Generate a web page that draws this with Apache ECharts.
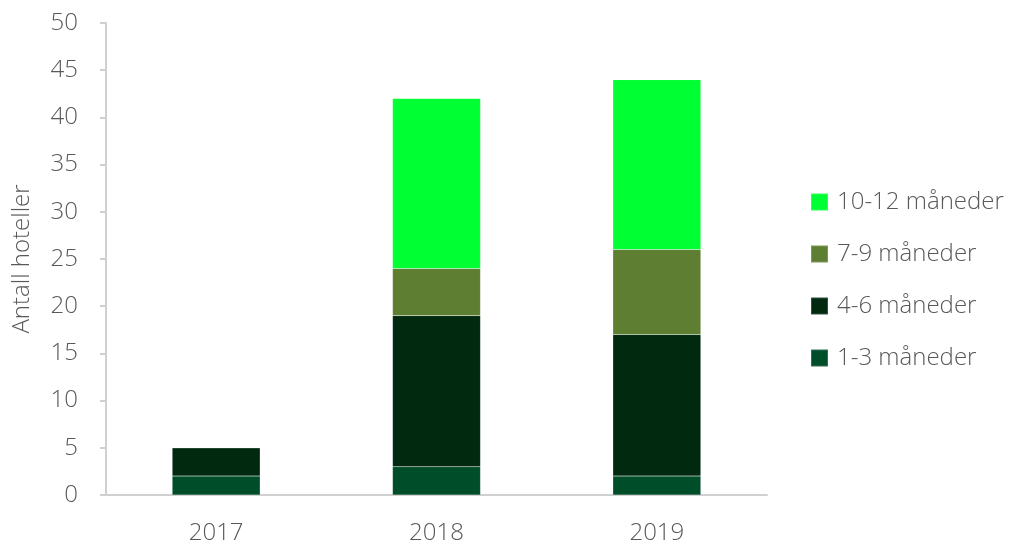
<!DOCTYPE html>
<html>
<head>
<meta charset="utf-8">
<script src="https://cdn.jsdelivr.net/npm/echarts@6/dist/echarts.min.js"></script>
<style>
html, body { margin: 0; padding: 0; background: #fff; }
#chart { width: 1018px; height: 547px; }
</style>
</head>
<body>
<div id="chart"></div>
<script>
// Hotel counts by season length, per year
const years = ['2017', '2018', '2019'];
const m1to3 = [2, 3, 2];
const m4to6 = [3, 16, 15];
const m7to9 = [0, 5, 9];
const m10to12 = [0, 18, 18];
const yTicks = { min: 0, max: 50, interval: 5 };

const font = 'Open Sans, Lato, sans-serif';
const textColor = '#595959';

const chart = echarts.init(document.getElementById('chart'));

function stackSeries(name, data, color) {
  return {
    name: name,
    type: 'bar',
    stack: 'total',
    data: data,
    barWidth: 88,
    itemStyle: { color: color, borderColor: 'rgba(255,255,255,0.2)', borderWidth: 0.5 },
    emphasis: { disabled: true }
  };
}

chart.setOption({
  animation: false,
  grid: { left: 106, right: 251, top: 23, bottom: 52, containLabel: false, outerBoundsMode: 'none' },
  legend: {
    orient: 'vertical',
    left: 810,
    top: 190,
    padding: 0,
    itemWidth: 17,
    itemHeight: 17,
    itemGap: 28,
    icon: 'rect',
    data: ['10-12 måneder', '7-9 måneder', '4-6 måneder', '1-3 måneder'],
    textStyle: { fontFamily: font, fontSize: 24, fontWeight: 300, color: textColor, padding: [0, 0, 0, 4] }
  },
  xAxis: {
    type: 'category',
    data: years,
    axisLine: { lineStyle: { color: '#d0d0d0', width: 2 } },
    axisTick: { show: false },
    axisLabel: { fontFamily: font, fontSize: 24, fontWeight: 300, color: textColor, margin: 26 }
  },
  yAxis: {
    type: 'value',
    min: yTicks.min,
    max: yTicks.max,
    interval: yTicks.interval,
    name: 'Antall hoteller',
    nameLocation: 'middle',
    nameGap: 72,
    nameTextStyle: { fontFamily: font, fontSize: 24, fontWeight: 300, color: textColor },
    axisLine: { show: true, lineStyle: { color: '#d0d0d0', width: 2 } },
    axisTick: { show: true, length: 6, lineStyle: { color: '#d0d0d0', width: 2 } },
    splitLine: { show: false },
    axisLabel: { fontFamily: font, fontSize: 24, fontWeight: 300, color: textColor, margin: 28 }
  },
  series: [
    stackSeries('1-3 måneder', m1to3, '#004D2A'),
    stackSeries('4-6 måneder', m4to6, '#002910'),
    stackSeries('7-9 måneder', m7to9, '#5E7F32'),
    stackSeries('10-12 måneder', m10to12, '#00FF33')
  ]
});
</script>
</body>
</html>
